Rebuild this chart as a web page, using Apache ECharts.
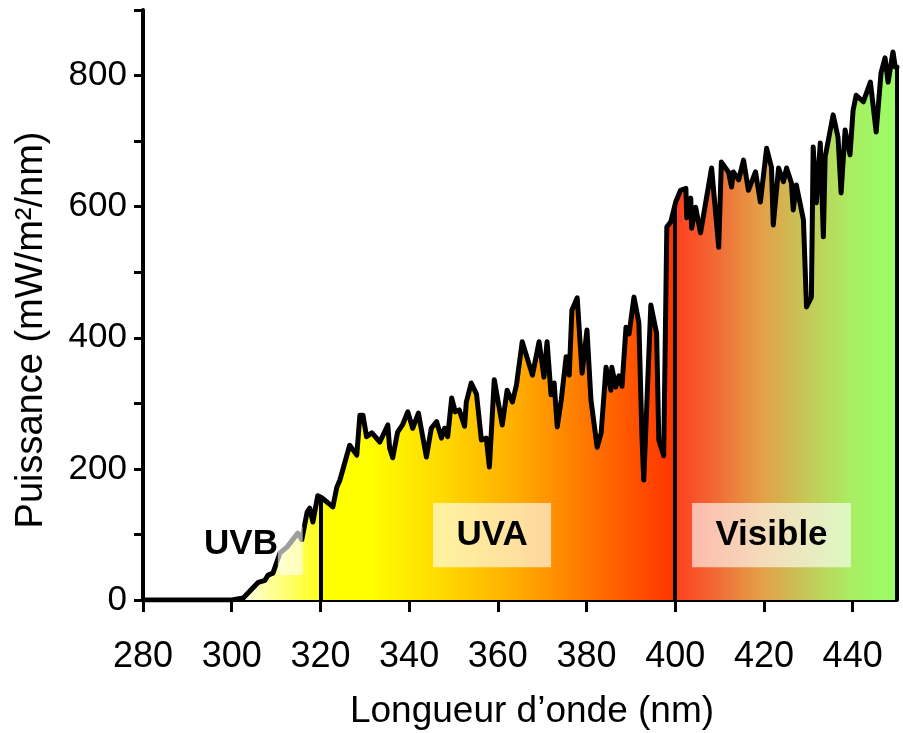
<!DOCTYPE html>
<html>
<head>
<meta charset="utf-8">
<script src="https://cdn.jsdelivr.net/npm/echarts@6/dist/echarts.min.js"></script>
<style>
html,body{margin:0;padding:0;background:#fff;}
#chart{width:903px;height:733px;}
</style>
</head>
<body>
<div id="chart"></div>
<script>
// Wavelength (nm) and power (mW/m²/nm)
var wavelength = [280, 290, 300, 302.6, 306.0, 307.5, 308.2, 309.3, 310.9, 312.5, 314.9, 315.8, 317.0, 317.6, 318.3, 319.4,
  320.3, 322.8, 323.7, 324.4, 326.6, 328.2, 328.9, 329.6, 330.4, 331.6, 333.4, 335.2, 335.6, 336.3, 337.4, 338.5, 339.7,
  340.8, 342.1, 343.9, 345.0, 346.2, 347.3, 348.0, 348.7, 349.6, 350.4, 351.3, 352.5, 352.9, 354.0, 355.2, 356.3, 357.4,
  358.1, 359.2, 361.0, 362.1, 363.3, 364.2, 365.5, 367.8, 369.3, 370.4, 371.1, 372.0, 372.7, 373.4, 374.3, 375.4, 376.1,
  376.7, 377.9, 379.0, 380.1, 381.0, 382.4, 383.3, 384.4, 385.5, 385.7, 386.6, 387.3, 388.0, 388.9, 389.6, 390.7, 391.8,
  392.5, 392.9, 394.5, 395.8, 396.3, 397.4, 398.1, 399.0, 400.1, 401.2, 402.4, 402.6, 403.5, 403.7, 404.6, 405.7, 408.2,
  409.8, 410.4, 412.0, 412.7, 413.1, 414.3, 415.4, 416.5, 418.1, 419.2, 420.6, 421.7, 422.1, 423.3, 424.4, 425.1, 426.2,
  426.6, 427.3, 428.9, 429.6, 430.7, 431.1, 431.8, 432.7, 433.4, 433.8, 435.6, 436.7, 437.4, 438.3, 439.4, 440.1, 440.8,
  442.4, 444.0, 445.3, 446.4, 447.3, 448.0, 449.1, 449.6, 450];
var power = [0, 0, 0, 3, 27, 30, 38, 41, 72, 81, 102, 92, 134, 140, 119, 159,
  156, 142, 172, 183, 236, 221, 282, 282, 249, 255, 241, 267, 232, 217, 256, 267, 287,
  262, 285, 218, 262, 272, 247, 262, 249, 308, 287, 290, 265, 302, 331, 314, 244, 247,
  203, 336, 267, 320, 302, 328, 394, 343, 394, 340, 394, 313, 331, 264, 305, 371, 343,
  442, 461, 346, 412, 305, 233, 255, 355, 320, 355, 325, 342, 326, 416, 406, 462, 423,
  249, 183, 450, 407, 244, 220, 569, 577, 607, 625, 628, 583, 613, 567, 599, 560, 659,
  538, 668, 653, 630, 653, 641, 671, 625, 653, 607, 689, 660, 572, 659, 638, 659, 636,
  595, 633, 580, 447, 462, 691, 606, 697, 554, 676, 740, 706, 621, 717, 679, 747, 770,
  760, 790, 714, 804, 827, 790, 836, 813, 813];

var xTicks = [280, 300, 320, 340, 360, 380, 400, 420, 440];
var yTicks = [0, 100, 200, 300, 400, 500, 600, 700, 800, 900];
var yLabels = [0, 200, 400, 600, 800];
var bandEdges = [320, 400, 450];
var bandNames = ['UVB', 'UVA', 'Visible'];

var FONT = "'Liberation Sans', Arial, Helvetica, sans-serif";

function interp(x) {
  for (var i = 1; i < wavelength.length; i++) {
    if (wavelength[i] >= x) {
      var x0 = wavelength[i - 1], x1 = wavelength[i];
      var t = (x - x0) / (x1 - x0);
      return power[i - 1] + t * (power[i] - power[i - 1]);
    }
  }
  return power[power.length - 1];
}

var seriesData = wavelength.map(function (w, i) { return [w, power[i]]; });

var edgeLines = bandEdges.map(function (x) {
  return [{ coord: [x, 0] }, { coord: [x, interp(x)] }];
});

var boxFill = 'rgba(255,255,255,0.62)';
var labelStyle = { show: true, position: 'inside', color: '#000', fontSize: 35, fontWeight: 'bold', fontFamily: FONT };

var chart = echarts.init(document.getElementById('chart'), null, { renderer: 'canvas' });
chart.setOption({
  animation: false,
  backgroundColor: '#ffffff',
  grid: { left: 143, right: 6, top: 10, bottom: 133, outerBoundsMode: 'none' },
  xAxis: {
    type: 'value',
    min: 280, max: 450, interval: 20,
    name: 'Longueur d\u2019onde (nm)',
    nameLocation: 'middle',
    nameGap: 93,
    nameTextStyle: { fontSize: 37, color: '#000', fontFamily: FONT, padding: [0, 0, 0, 24] },
    axisLine: { show: true, onZero: false, lineStyle: { color: '#000', width: 4 } },
    axisTick: { show: true, inside: false, length: 12, lineStyle: { color: '#000', width: 3 }, customValues: xTicks },
    axisLabel: { color: '#000', fontSize: 36, fontFamily: FONT, margin: 39, customValues: xTicks },
    splitLine: { show: false }
  },
  yAxis: {
    type: 'value',
    min: 0, max: 900, interval: 100,
    name: 'Puissance (mW/m\u00b2/nm)',
    nameLocation: 'middle',
    nameGap: 92,
    nameTextStyle: { fontSize: 38, color: '#000', fontFamily: FONT, padding: [0, 50, 0, 0] },
    axisLine: { show: true, lineStyle: { color: '#000', width: 4 } },
    axisTick: { show: true, inside: false, length: 9, lineStyle: { color: '#000', width: 3 }, customValues: yTicks },
    axisLabel: { color: '#000', fontSize: 35, fontFamily: FONT, margin: 16, customValues: yLabels },
    splitLine: { show: false }
  },
  series: [{
    type: 'line',
    data: seriesData,
    showSymbol: false,
    symbol: 'none',
    smooth: false,
    lineStyle: { color: '#000', width: 5, join: 'round', cap: 'round' },
    areaStyle: {
      opacity: 1,
      color: new echarts.graphic.LinearGradient(0, 0, 1, 0, [
        { offset: 0, color: '#ffffff' },
        { offset: 0.1176, color: '#ffffff' },
        { offset: 0.2353, color: '#ffff18' },
        { offset: 0.2360, color: '#ffff00' },
        { offset: 0.30, color: '#ffff00' },
        { offset: 0.40, color: '#ffd800' },
        { offset: 0.50, color: '#ffaa00' },
        { offset: 0.60, color: '#ff7000' },
        { offset: 0.7059, color: '#ff3300' },
        { offset: 0.7065, color: '#ff4020' },
        { offset: 0.76, color: '#f26a35' },
        { offset: 0.82, color: '#e3a048' },
        { offset: 0.88, color: '#c6c858' },
        { offset: 0.94, color: '#a8ee62' },
        { offset: 1, color: '#99ff66' }
      ])
    },
    markLine: {
      silent: true,
      symbol: ['none', 'none'],
      label: { show: false },
      lineStyle: { color: '#000', width: 4, type: 'solid' },
      emphasis: { disabled: true },
      data: edgeLines
    },
    markArea: {
      silent: true,
      z: 10,
      emphasis: { disabled: true },
      data: [
        [{ coord: [310.4, 38], itemStyle: { color: boxFill } }, { coord: [316, 112] }],
        [{ coord: [293.3, 60], itemStyle: { color: 'rgba(0,0,0,0)' }, label: Object.assign({}, labelStyle, { formatter: bandNames[0] }) }, { coord: [310.9, 110] }],
        [{ coord: [345.4, 50], itemStyle: { color: boxFill }, label: Object.assign({}, labelStyle, { formatter: bandNames[1] }) }, { coord: [372, 148] }],
        [{ coord: [403.8, 50], itemStyle: { color: boxFill }, label: Object.assign({}, labelStyle, { formatter: bandNames[2] }) }, { coord: [439.6, 148] }]
      ]
    }
  }]
});
</script>
</body>
</html>
